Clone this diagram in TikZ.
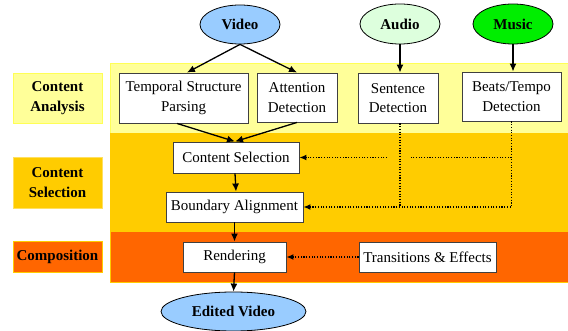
\documentclass[tikz,border=0pt]{standalone}
\usepackage{fontspec}
\setmainfont{Liberation Serif}
\usetikzlibrary{arrows.meta,shapes.geometric,calc}

\definecolor{bandA}{HTML}{FFFF99}
\definecolor{bandAedge}{HTML}{FFFF55}
\definecolor{bandS}{HTML}{FFCC00}
\definecolor{bandSedge}{HTML}{FFE060}
\definecolor{bandC}{HTML}{FF6600}
\definecolor{bandCedge}{HTML}{FFCC00}
\definecolor{vidblue}{HTML}{99CCFF}
\definecolor{audgreen}{HTML}{DDFFDD}
\definecolor{musgreen}{HTML}{00EE00}
\definecolor{boxedge}{HTML}{404040}

\tikzset{
  txt/.style={font=\fontsize{15}{19.5}\selectfont, align=center},
  procbox/.style={txt, draw=boxedge, line width=0.9pt, fill=white,
    rectangle, inner sep=0pt},
  source/.style={txt, font=\fontsize{15}{19.5}\selectfont\bfseries, ellipse,
    draw=black, line width=0.8pt, inner sep=0pt},
  stagelabel/.style={txt, font=\fontsize{15}{19.5}\selectfont\bfseries,
    rectangle, inner sep=0pt, line width=0.8pt},
  flow/.style={line width=1.3pt, -{Latex[length=8pt,width=7pt]}},
  hint/.style={line width=1.3pt, dash pattern=on 1.1pt off 1.6pt},
  hintarrow/.style={hint, -{Latex[length=7pt,width=6pt]}},
}

\begin{document}
\begin{tikzpicture}[x=1pt,y=-1pt]
\useasboundingbox (0,0) rectangle (568,331);

% stage bands
\fill[bandA] (110,63) rectangle (568,133);
\draw[bandAedge, line width=0.8pt] (568,63) -- (110,63) -- (110,133);
\fill[bandS] (110,133) rectangle (568,232);
\fill[bandC] (110,232) rectangle (568,282);
\draw[bandCedge, line width=0.8pt] (110,232) -- (110,282) -- (568,282);

% stage labels
\node[stagelabel, fill=bandA, draw=bandAedge, minimum width=89pt, minimum height=50pt]
  (labA) at (57.5,98) {Content\\Analysis};
\node[stagelabel, fill=bandS, draw=bandSedge, minimum width=89pt, minimum height=51pt]
  (labS) at (57.5,182.5) {Content\\Selection};
\node[stagelabel, fill=bandC, draw=bandCedge, minimum width=89pt, minimum height=31pt]
  (labC) at (57.5,256.5) {Composition};

% sources
\node[source, fill=vidblue, minimum width=80pt, minimum height=39pt] (video) at (240,24.5) {Video};
\node[source, fill=audgreen, minimum width=80pt, minimum height=40pt] (audio) at (400,24) {Audio};
\node[source, fill=musgreen, minimum width=80pt, minimum height=40pt] (music) at (513,24) {Music};
\node[source, fill=vidblue, minimum width=145pt, minimum height=39pt] (edited) at (233.5,311.5) {Edited Video};

% processing boxes
\node[procbox, minimum width=129pt, minimum height=50pt] (tsp) at (183.5,98) {Temporal Structure\\Parsing};
\node[procbox, minimum width=80pt, minimum height=49pt] (att) at (297,97.5) {Attention\\Detection};
\node[procbox, minimum width=80pt, minimum height=50pt] (sent) at (398,98) {Sentence\\Detection};
\node[procbox, minimum width=99pt, minimum height=49pt] (beats) at (511.5,96.5) {Beats/Tempo\\Detection};
\node[procbox, minimum width=126pt, minimum height=31pt] (csel) at (236,157.5) {Content Selection};
\node[procbox, minimum width=137pt, minimum height=30pt] (balign) at (234.5,207) {Boundary Alignment};
\node[procbox, minimum width=103pt, minimum height=30pt] (rend) at (234.5,257) {Rendering};
\node[procbox, minimum width=137pt, minimum height=30pt] (trans) at (427.5,257) {Transitions \& Effects};

% main flow
\draw[flow] (video.south) -- ([xshift=3.5pt]tsp.north);
\draw[flow] (video.south) -- (att.north);
\draw[flow] ([xshift=-6.5pt]tsp.south) -- ([xshift=-1pt]csel.north);
\draw[flow] (att.south) -- ([xshift=-1pt]csel.north);
\draw[flow] ([xshift=-1pt]csel.south) -- (csel.south |- balign.north);
\draw[flow] (balign.south) -- (rend.north);
\draw[flow] (rend.south) -- (edited.north);
\draw[flow] (audio.south) -- (audio.south |- sent.north);
\draw[flow] (music.south) -- (music.south |- beats.north);

% audio / music cues
\coordinate (sentdrop) at ([xshift=2pt]sent.south);
\coordinate (gapR) at ($(sentdrop |- csel.east)+(10pt,0)$);
\coordinate (gapL) at ($(sentdrop |- csel.east)+(-13pt,0)$);
\draw[hint] (sentdrop) -- (sentdrop |- balign.east);
\draw[hintarrow] (beats.south) |- (balign.east);
\draw[hint] (beats.south |- csel.east) -- (gapR);
\draw[hintarrow] (gapL) -- (csel.east);
\draw[hintarrow] (trans.west) -- (rend.east);
\end{tikzpicture}
\end{document}
